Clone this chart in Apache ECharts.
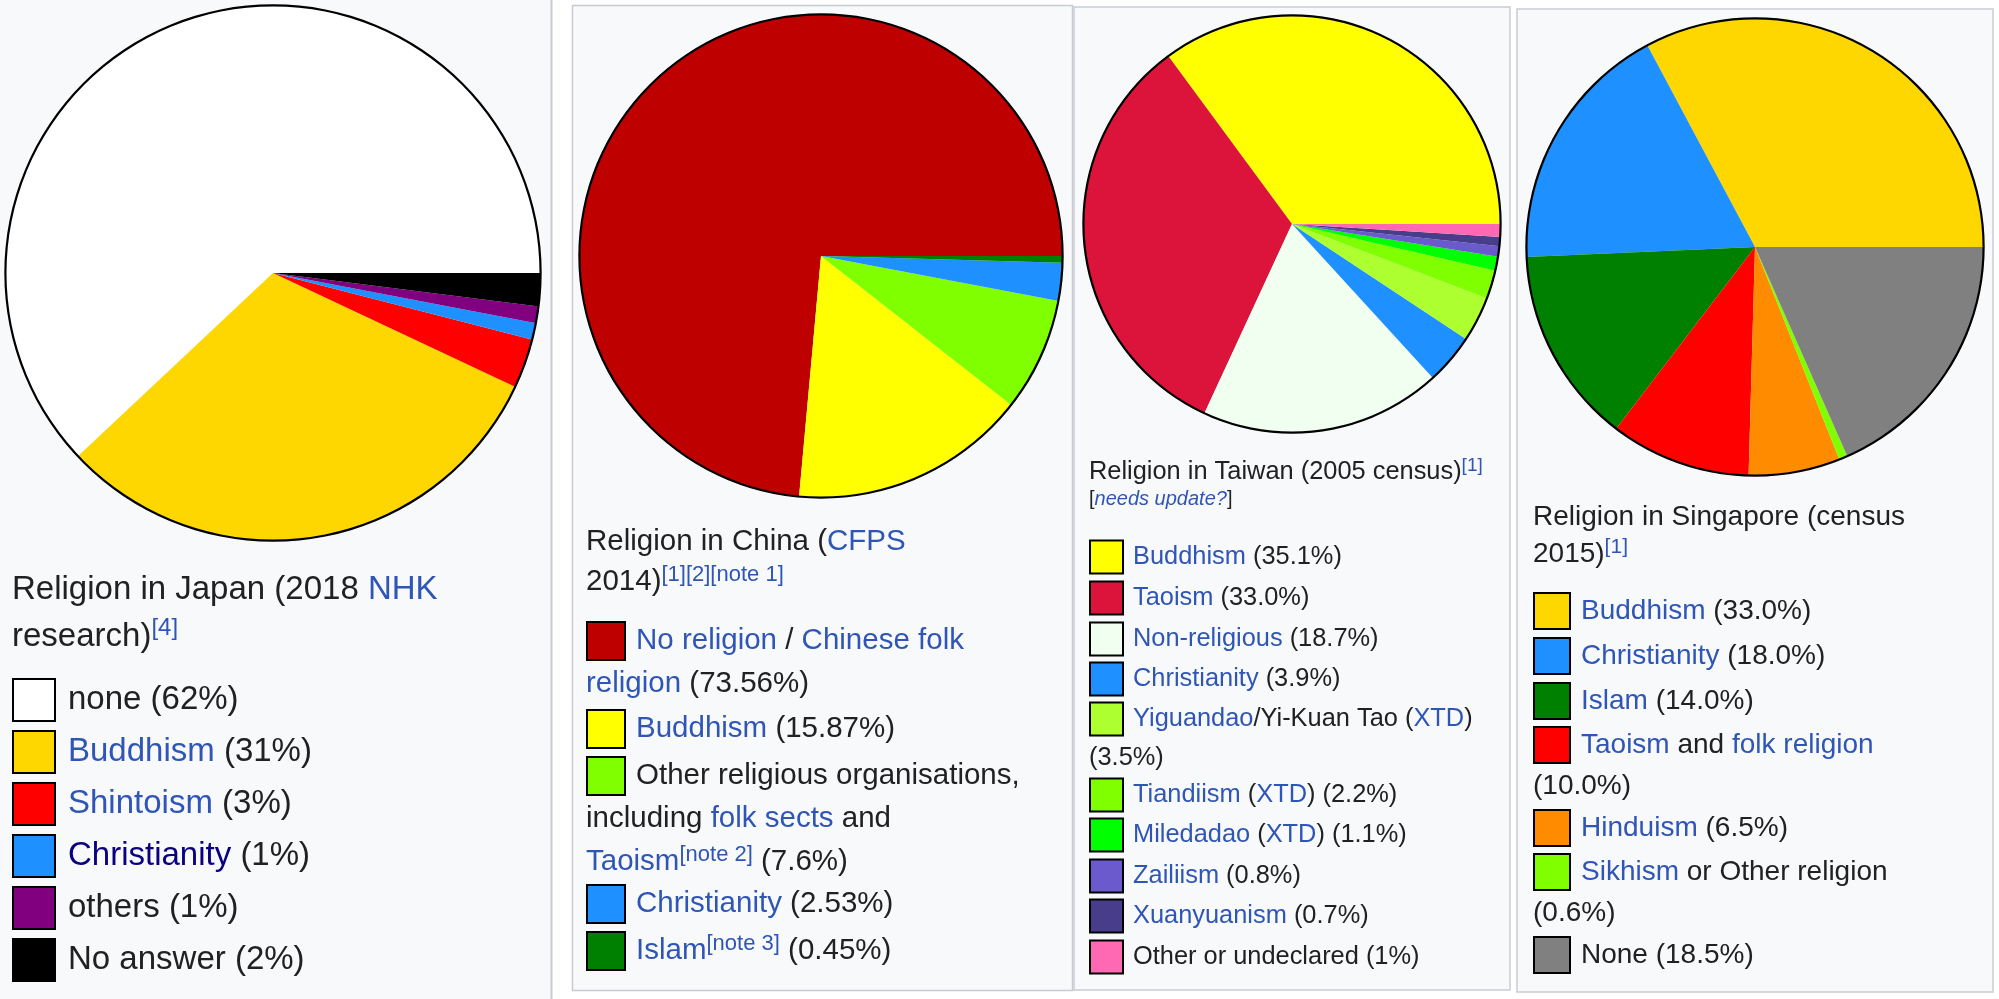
<html>
<head>
  <meta charset="utf-8">
  <title>Religion pies</title>
  <script src="https://cdn.jsdelivr.net/npm/echarts@6/dist/echarts.min.js"></script>
<style>
  body { margin: 0; background-color: white; }
</style>
  <script type="text/javascript">

    // ---- data, one block per pie ----
    // Japan (2018 NHK research)
    const jpNames  = ['none', 'Buddhism', 'Shintoism', 'Christianity', 'others', 'No answer'];
    const jpValues = [62, 31, 3, 1, 1, 2];
    const jpColors = ['#ffffff', '#ffd700', '#ff0000', '#1e90ff', '#800080', '#000000'];
    const jpLegend = [
      ['none (%0%)'], ['{l|Buddhism} (%0%)'], ['{l|Shintoism} (%0%)'],
      ['{v|Christianity} (%0%)'], ['others (%0%)'], ['No answer (%0%)']
    ];
    const jpTitle = ['Religion in Japan (2018 {l|NHK}', 'research){s|[4]}'];

    // China (CFPS 2014)
    const cnNames  = ['No religion / Chinese folk religion', 'Buddhism', 'Other religious organisations', 'Christianity', 'Islam'];
    const cnValues = [73.56, 15.87, 7.6, 2.53, 0.45];
    const cnColors = ['#bf0000', '#ffff00', '#7fff00', '#1e90ff', '#008000'];
    const cnLegend = [
      ['{l|No religion} / {l|Chinese folk}', '{l|religion} (%2%)'],
      ['{l|Buddhism} (%2%)'],
      ['Other religious organisations,', 'including {l|folk sects} and', '{l|Taoism}{s|[note 2]} (%1%)'],
      ['{l|Christianity} (%2%)'],
      ['{l|Islam}{s|[note 3]} (%2%)']
    ];
    const cnTitle = ['Religion in China ({l|CFPS}', '2014){s|[1][2][note 1]}'];

    // Taiwan (2005 census)
    const twNames  = ['Buddhism', 'Taoism', 'Non-religious', 'Christianity', 'Yiguandao/Yi-Kuan Tao',
                      'Tiandiism', 'Miledadao', 'Zailiism', 'Xuanyuanism', 'Other or undeclared'];
    const twValues = [35.1, 33.0, 18.7, 3.9, 3.5, 2.2, 1.1, 0.8, 0.7, 1];
    const twColors = ['#ffff00', '#dc143c', '#f0fff0', '#1e90ff', '#adff2f',
                      '#7fff00', '#00ff00', '#6a5acd', '#483d8b', '#ff69b4'];
    const twLegend = [
      ['{l|Buddhism} (%1%)'], ['{l|Taoism} (%1%)'], ['{l|Non-religious} (%1%)'], ['{l|Christianity} (%1%)'],
      ['{l|Yiguandao}/Yi-Kuan Tao ({l|XTD})', '(%1%)'],
      ['{l|Tiandiism} ({l|XTD}) (%1%)'], ['{l|Miledadao} ({l|XTD}) (%1%)'],
      ['{l|Zailiism} (%1%)'], ['{l|Xuanyuanism} (%1%)'], ['Other or undeclared (%0%)']
    ];
    const twTitle = ['Religion in Taiwan (2005 census){s|[1]}'];

    // Singapore (census 2015)
    const sgNames  = ['Buddhism', 'Christianity', 'Islam', 'Taoism and folk religion', 'Hinduism', 'Sikhism or Other religion', 'None'];
    const sgValues = [33.0, 18.0, 14.0, 10.0, 6.5, 0.6, 18.5];
    const sgColors = ['#ffd700', '#1e90ff', '#008000', '#ff0000', '#ff8c00', '#7fff00', '#808080'];
    const sgLegend = [
      ['{l|Buddhism} (%1%)'], ['{l|Christianity} (%1%)'], ['{l|Islam} (%1%)'],
      ['{l|Taoism} and {l|folk religion}', '(%1%)'],
      ['{l|Hinduism} (%1%)'],
      ['{l|Sikhism} or Other religion', '(%1%)'],
      ['None (%1%)']
    ];
    const sgTitle = ['Religion in Singapore (census', '2015){s|[1]}'];

    const FONT = '"Liberation Sans", Arial, sans-serif';
    const TEXT = '#202122', LINK = '#2f56b6', VISITED = '#0b0080';

    // layout of each box: pie centre/radius, title, legend rows
    const panels = [
      { names: jpNames, values: jpValues, colors: jpColors, legend: jpLegend, title: jpTitle,
        center: [273, 273], r: 268, font: 33, boxX: 12, box: 44, textX: 68,
        titleY: [590, 637], rowY: [700, 752, 804, 856, 908, 960], gap: 46 },
      { names: cnNames, values: cnValues, colors: cnColors, legend: cnLegend, title: cnTitle,
        center: [821, 256], r: 242, font: 29.5, boxX: 586, box: 40, textX: 636,
        titleY: [542, 582], rowY: [641, 729, 776, 904, 951], gap: 43 },
      { names: twNames, values: twValues, colors: twColors, legend: twLegend, title: twTitle,
        center: [1292, 224], r: 209, font: 25.4, boxX: 1089, box: 35, textX: 1133,
        titleY: [472], rowY: [557, 598, 639, 679, 719, 795, 835, 876, 916, 957], gap: 39 },
      { names: sgNames, values: sgValues, colors: sgColors, legend: sgLegend, title: sgTitle,
        center: [1755, 247], r: 229, font: 28, boxX: 1533, box: 38, textX: 1581,
        titleY: [517, 554], rowY: [611, 656, 701, 745, 828, 872, 955], gap: 41 }
    ];

    function fill_values(tpl, v) {
      return tpl.replace(/%(\d)/g, (m, d) => v.toFixed(+d));
    }

    function rich_styles(size) {
      return {
        l: { fill: LINK, fontSize: size, fontFamily: FONT, lineHeight: size * 1.25 },
        v: { fill: VISITED, fontSize: size, fontFamily: FONT, lineHeight: size * 1.25 },
        s: { fill: LINK, fontSize: Math.round(size * 0.74), fontFamily: FONT,
             lineHeight: size * 0.64, verticalAlign: 'top' },
        i: { fill: LINK, fontSize: size, fontFamily: FONT, fontStyle: 'italic',
             lineHeight: size * 1.25 }
      };
    }

    function text_el(x, y, str, size) {
      return {
        type: 'text', x: x, y: y, z: 10, silent: true,
        style: {
          text: str, fontSize: size, fontFamily: FONT, fill: TEXT,
          lineHeight: size * 1.25, align: 'left', verticalAlign: 'middle',
          rich: rich_styles(size)
        }
      };
    }

    function build_graphics() {
      let els = [];
      // panel backgrounds and frames
      els.push({ type: 'rect', z: 0, silent: true, shape: { x: 0, y: 0, width: 551, height: 999 },
                 style: { fill: '#f8f9fa' } });
      els.push({ type: 'line', z: 1, silent: true, shape: { x1: 551.5, y1: 0, x2: 551.5, y2: 999 },
                 style: { stroke: '#c8ccd1', lineWidth: 2 } });
      const frames = [[572.5, 5.5, 500, 985], [1074, 7, 436, 983], [1517, 9, 476, 983]];
      frames.forEach(f => {
        els.push({ type: 'rect', z: 0, silent: true,
                   shape: { x: f[0], y: f[1], width: f[2], height: f[3] },
                   style: { fill: '#f8f9fa', stroke: '#c8ccd1', lineWidth: 1.5 } });
      });

      panels.forEach((p, k) => {
        // title lines (first starts at box left)
        p.title.forEach((t, i) => els.push(text_el(p.boxX, p.titleY[i], t, p.font)));
        // legend rows
        p.legend.forEach((lines, i) => {
          let y = p.rowY[i];
          els.push({ type: 'rect', z: 10, silent: true,
                     shape: { x: p.boxX + 1, y: y - p.box / 2 + 1, width: p.box - 2, height: p.box - 2 },
                     style: { fill: p.colors[i], stroke: '#000', lineWidth: 2 } });
          lines.forEach((ln, j) => {
            let s = fill_values(ln, p.values[i]);
            els.push(text_el(j == 0 ? p.textX : p.boxX, y + j * p.gap, s, p.font));
          });
        });
      });
      // Taiwan maintenance tag
      els.push(text_el(1089, 499, '[{i|needs update?}]', 20));
      return els;
    }

    function build_series() {
      let series = [];
      panels.forEach(p => {
        series.push({
          type: 'pie', center: p.center, radius: p.r,
          startAngle: 0, clockwise: false, silent: true,
          label: { show: false }, labelLine: { show: false },
          emphasis: { disabled: true },
          itemStyle: { borderWidth: 0 },
          data: p.names.map((n, i) => ({ name: n, value: p.values[i], itemStyle: { color: p.colors[i] } }))
        });
        // black outline round the pie
        series.push({
          type: 'pie', center: p.center, radius: [p.r - 1.5, p.r + 0.7],
          silent: true, label: { show: false }, labelLine: { show: false },
          emphasis: { disabled: true }, itemStyle: { borderWidth: 0, color: '#000' },
          data: [{ name: 'outline', value: 1 }]
        });
      });
      return series;
    }

    function init() {
      let myChart = echarts.init(document.getElementById('main'), null, { renderer: 'canvas' });
      let option = {
        animation: false,
        backgroundColor: '#ffffff',
        graphic: { elements: build_graphics() },
        series: build_series()
      };
      myChart.setOption(option);
    }
  </script>
</head>
<body onload="init();">
  <div id="main" style="width: 1999px; height: 999px;"></div>
</body>
</html>
